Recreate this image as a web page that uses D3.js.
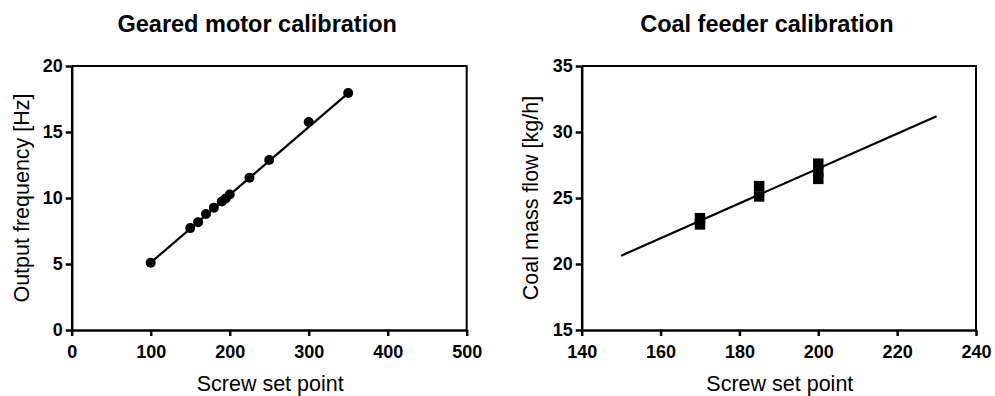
<!DOCTYPE html>
<html>
<head>
<meta charset="utf-8">
<script src="https://cdn.jsdelivr.net/npm/d3@7/dist/d3.min.js"></script>
<style>
  html, body { margin: 0; padding: 0; background: #fff; }
  svg { display: block; }
  text { font-family: "Liberation Sans", Arial, sans-serif; fill: #000; }
</style>
</head>
<body>
<svg id="chart" width="995" height="396"></svg>
<script>
// ---- Data: Geared motor calibration ----
const motorX = [100, 150, 160, 170, 180, 190, 195, 200, 225, 250, 300, 350];
const motorY = [5.1, 7.72, 8.17, 8.79, 9.27, 9.73, 9.97, 10.27, 11.54, 12.88, 15.76, 17.95];
const motorFitX = [100, 350];
const motorFitY = [5.1, 17.95];
const motorXTicks = [0, 100, 200, 300, 400, 500];
const motorYTicks = [0, 5, 10, 15, 20];

// ---- Data: Coal feeder calibration ----
const coalX = [170, 170, 185, 185, 200, 200, 200];
const coalY = [23.47, 23.0, 25.9, 25.12, 27.6, 27.0, 26.45];
const coalFitX = [150, 230];
const coalFitY = [20.63, 31.2];
const coalXTicks = [140, 160, 180, 200, 220, 240];
const coalYTicks = [15, 20, 25, 30, 35];

const svg = d3.select("#chart");

function panel(cfg) {
  const g = svg.append("g");
  const x = d3.scaleLinear().domain(cfg.xDomain).range([cfg.left, cfg.right]);
  const y = d3.scaleLinear().domain(cfg.yDomain).range([cfg.bottom, cfg.top]);

  // frame (top and right)
  g.append("path")
    .attr("d", `M${cfg.left},${cfg.top}H${cfg.right}V${cfg.bottom}`)
    .attr("fill", "none").attr("stroke", "#000").attr("stroke-width", 2);

  // x axis
  const xa = g.append("g").attr("transform", `translate(0,${cfg.bottom})`)
    .call(d3.axisBottom(x).tickValues(cfg.xTicks).tickSize(6).tickPadding(9).tickSizeOuter(0));
  // y axis
  const ya = g.append("g").attr("transform", `translate(${cfg.left},0)`)
    .call(d3.axisLeft(y).tickValues(cfg.yTicks).tickSize(6).tickPadding(3).tickSizeOuter(0));
  [xa, ya].forEach(a => {
    a.select(".domain").attr("stroke", "#000").attr("stroke-width", 2.5);
    a.selectAll(".tick line").attr("stroke", "#000").attr("stroke-width", 2.5);
    a.selectAll(".tick text").attr("fill", "#000")
      .style("font-family", '"Liberation Sans", Arial, sans-serif')
      .style("font-size", "18px").style("font-weight", "bold");
  });
  xa.selectAll(".tick text").attr("dy", "0.71em");

  // fit line
  const fit = cfg.fitX.map((v, i) => [v, cfg.fitY[i]]);
  g.append("path").datum(fit)
    .attr("d", d3.line().x(d => x(d[0])).y(d => y(d[1])))
    .attr("fill", "none").attr("stroke", "#000").attr("stroke-width", 2.2);

  // markers
  const pts = cfg.xs.map((v, i) => [v, cfg.ys[i]]);
  if (cfg.marker === "circle") {
    g.selectAll("circle.pt").data(pts).join("circle")
      .attr("cx", d => x(d[0])).attr("cy", d => y(d[1])).attr("r", 5).attr("fill", "#000");
  } else {
    const s = 10.5;
    g.selectAll("rect.pt").data(pts).join("rect")
      .attr("x", d => x(d[0]) - s / 2).attr("y", d => y(d[1]) - s / 2)
      .attr("width", s).attr("height", s).attr("fill", "#000");
  }

  // title
  g.append("text").attr("x", (cfg.left + cfg.right) / 2 - 12).attr("y", 32)
    .attr("text-anchor", "middle").style("font-size", "23.5px").style("font-weight", "bold")
    .text(cfg.title);
  // x label
  g.append("text").attr("x", (cfg.left + cfg.right) / 2 + 1).attr("y", 391)
    .attr("text-anchor", "middle").style("font-size", "21.5px").text(cfg.xLabel);
  // y label
  g.append("text")
    .attr("transform", `translate(${cfg.yLabelX},${(cfg.top + cfg.bottom) / 2}) rotate(-90)`)
    .attr("text-anchor", "middle").style("font-size", "21.5px").text(cfg.yLabel);
}

panel({
  left: 71.7, right: 466.7, top: 66, bottom: 330,
  xDomain: [0, 500], yDomain: [0, 20],
  xTicks: motorXTicks, yTicks: motorYTicks,
  xs: motorX, ys: motorY, fitX: motorFitX, fitY: motorFitY,
  marker: "circle",
  title: "Geared motor calibration",
  xLabel: "Screw set point", yLabel: "Output frequency [Hz]", yLabelX: 29
});

panel({
  left: 581.7, right: 976, top: 66, bottom: 330,
  xDomain: [140, 240], yDomain: [15, 35],
  xTicks: coalXTicks, yTicks: coalYTicks,
  xs: coalX, ys: coalY, fitX: coalFitX, fitY: coalFitY,
  marker: "rect",
  title: "Coal feeder calibration",
  xLabel: "Screw set point", yLabel: "Coal mass flow [kg/h]", yLabelX: 538
});
</script>
</body>
</html>
